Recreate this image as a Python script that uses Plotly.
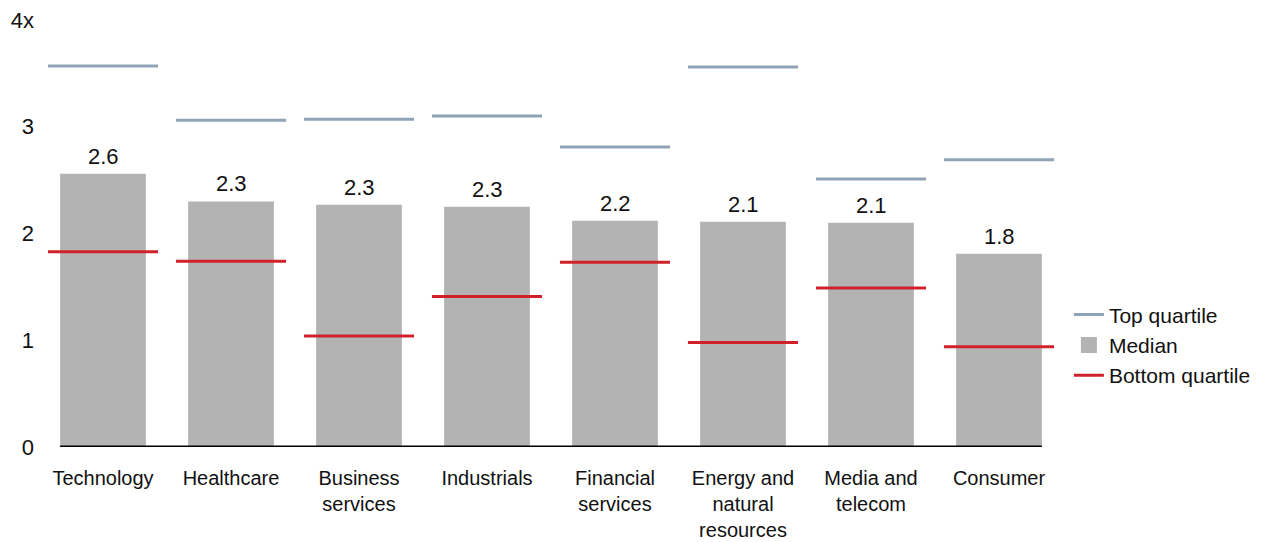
import plotly.graph_objects as go

sectors = ["Technology", "Healthcare", "Business<br>services", "Industrials",
           "Financial<br>services", "Energy and<br>natural<br>resources",
           "Media and<br>telecom", "Consumer"]
median = [2.56, 2.30, 2.27, 2.25, 2.12, 2.11, 2.10, 1.81]
median_labels = ["2.6", "2.3", "2.3", "2.3", "2.2", "2.1", "2.1", "1.8"]
top_quartile = [3.57, 3.06, 3.07, 3.10, 2.81, 3.56, 2.51, 2.69]
bottom_quartile = [1.83, 1.74, 1.04, 1.41, 1.73, 0.98, 1.49, 0.94]
y_ticks = [0, 1, 2, 3, 4]
y_tick_labels = ["0", "1", "2", "3", "4x"]

font = "Liberation Sans, Arial, sans-serif"
pos = list(range(len(sectors)))
half = 0.43


def segments(vals):
    xs, ys = [], []
    for i, v in zip(pos, vals):
        xs += [i - half, i + half, None]
        ys += [v, v, None]
    return xs, ys


fig = go.Figure()

tx, ty = segments(top_quartile)
fig.add_trace(go.Scatter(x=tx, y=ty, mode="lines", name="Top quartile",
                         line=dict(color="#8fa3b6", width=3)))

fig.add_trace(go.Bar(x=pos, y=median, name="Median", width=0.67, showlegend=False,
                     marker=dict(color="#b3b3b3", line=dict(width=0))))
# legend entry for the bars (bigger square swatch)
fig.add_trace(go.Scatter(x=[None], y=[None], mode="markers", name="Median",
                         marker=dict(symbol="square", size=20, color="#b3b3b3")))

bx, by = segments(bottom_quartile)
fig.add_trace(go.Scatter(x=bx, y=by, mode="lines", name="Bottom quartile",
                         line=dict(color="#d0202a", width=3)))

for i, v, t in zip(pos, median, median_labels):
    fig.add_annotation(x=i, y=v, text=t, showarrow=False, yanchor="bottom",
                       yshift=3, font=dict(size=22, color="#111"))

# baseline under the bars
fig.add_shape(type="line", xref="x", yref="y", x0=-0.335, x1=len(sectors) - 1 + 0.335,
              y0=0, y1=0, line=dict(color="black", width=3))

# page body adds an 8px margin, so the figure is a bit smaller than the window
fig.update_layout(
    width=1257, height=534,
    margin=dict(l=31, r=202, t=12, b=95),
    paper_bgcolor="white", plot_bgcolor="white",
    font=dict(family=font, size=21, color="#111"),
    showlegend=True,
    legend=dict(xref="container", x=0.844, y=0.239, xanchor="left", yanchor="middle",
                font=dict(size=21), traceorder="normal", itemwidth=30),
    xaxis=dict(range=[-0.5, len(sectors) - 0.5], tickvals=pos, ticktext=sectors,
               showgrid=False, zeroline=False, showline=False, ticks="",
               tickfont=dict(size=20), automargin=False, ticklabelstandoff=17,
               ticklabeloverflow="allow"),
    yaxis=dict(range=[0, 4], tickvals=y_ticks, ticktext=y_tick_labels,
               showgrid=False, zeroline=False, showline=False, ticks="",
               tickfont=dict(size=22), automargin=False, ticklabelstandoff=4,
               ticklabeloverflow="allow"),
)

fig.write_html("out.html")
